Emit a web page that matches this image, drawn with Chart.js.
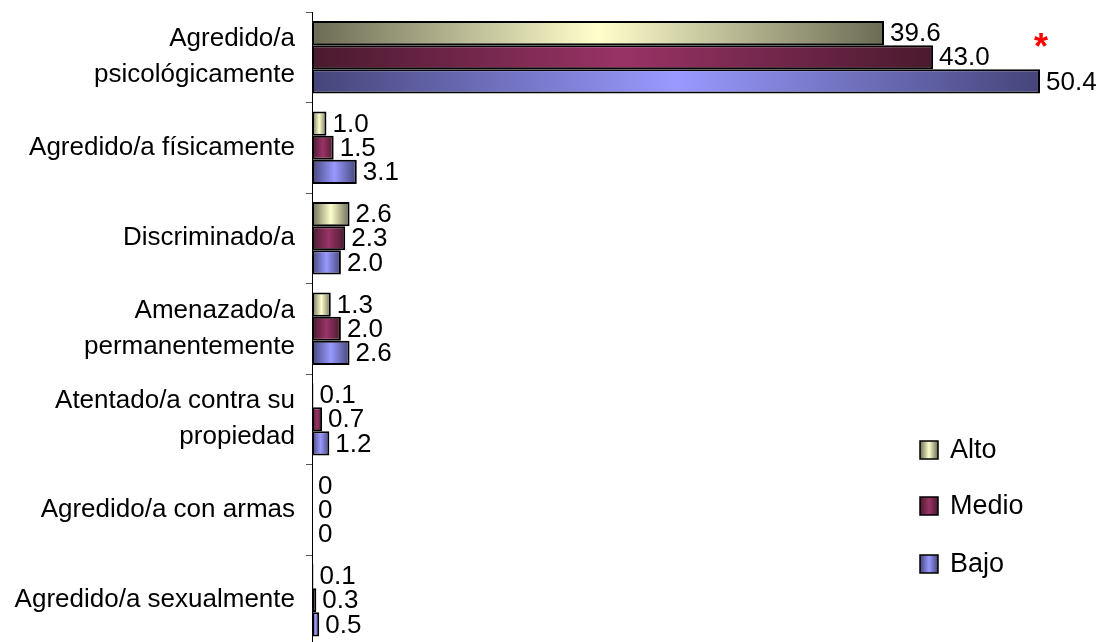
<!DOCTYPE html>
<html>
<head>
<meta charset="utf-8">
<script src="https://cdn.jsdelivr.net/npm/chart.js@4/dist/chart.umd.min.js"></script>
<style>
  html, body { margin: 0; padding: 0; background: #fff; overflow: hidden; }
  #wrap { width: 1101px; height: 650px; }
</style>
</head>
<body>
<div id="wrap"><canvas id="myCanvas" width="1101" height="650"></canvas></div>
<script>
const categories = [
  ["Agredido/a", "psicológicamente"],
  "Agredido/a físicamente",
  "Discriminado/a",
  ["Amenazado/a", "permanentemente"],
  ["Atentado/a contra su", "propiedad"],
  "Agredido/a con armas",
  "Agredido/a sexualmente",
];
const seriesNames = ["Alto", "Medio", "Bajo"];
const alto = [39.6, 1.0, 2.6, 1.3, 0.1, 0, 0.1];
const medio = [43.0, 1.5, 2.3, 2.0, 0.7, 0, 0.3];
const bajo = [50.4, 3.1, 2.0, 2.6, 1.2, 0, 0.5];

const FONT = "'Liberation Sans', Arial, sans-serif";
// dark edge / light middle, like the old "cylinder" fill
const shades = [
  ["#6b6b55", "#ffffcc"],
  ["#4a1a2e", "#993366"],
  ["#45457a", "#9999ff"],
];

function barFill(i) {
  return function (ctx) {
    const chart = ctx.chart;
    if (!chart.chartArea) return shades[i][1];
    const x = chart.scales.x;
    const x0 = x.getPixelForValue(0);
    const x1 = x.getPixelForValue(ctx.raw);
    if (x1 - x0 < 1) return shades[i][1];
    const g = chart.ctx.createLinearGradient(x0, 0, x1, 0);
    g.addColorStop(0, shades[i][0]);
    g.addColorStop(0.5, shades[i][1]);
    g.addColorStop(1, shades[i][0]);
    return g;
  };
}

const valueLabels = {
  id: "valueLabels",
  afterDatasetsDraw(chart) {
    const c = chart.ctx;
    c.save();
    c.font = "26px " + FONT;
    c.fillStyle = "#000";
    c.textAlign = "left";
    c.textBaseline = "middle";
    chart.data.datasets.forEach((ds, di) => {
      chart.getDatasetMeta(di).data.forEach((bar, j) => {
        const v = ds.data[j];
        c.fillText(v === 0 ? "0" : v.toFixed(1), bar.x + 6, bar.y + 1);
      });
    });
    c.restore();
  },
};

const sideLegend = {
  id: "sideLegend",
  afterDraw(chart) {
    const c = chart.ctx;
    const rows = [450, 506, 564];
    c.save();
    seriesNames.forEach((name, i) => {
      const bx = 920, by = rows[i] - 9, w = 18, h = 18;
      const g = c.createLinearGradient(bx, 0, bx + w, 0);
      g.addColorStop(0, shades[i][0]);
      g.addColorStop(0.5, shades[i][1]);
      g.addColorStop(1, shades[i][0]);
      c.fillStyle = g;
      c.fillRect(bx, by, w, h);
      c.lineWidth = 1.5;
      c.strokeStyle = "#000";
      c.strokeRect(bx, by, w, h);
      c.fillStyle = "#000";
      c.font = "27px " + FONT;
      c.textBaseline = "middle";
      c.fillText(name, 950, rows[i] + 1);
    });
    // significance mark
    c.fillStyle = "#ff0000";
    c.font = "bold 36px " + FONT;
    c.textAlign = "center";
    c.textBaseline = "alphabetic";
    c.fillText("*", 1041, 59);
    c.restore();
  },
};

const data = {
  labels: categories,
  datasets: [alto, medio, bajo].map((vals, i) => ({
    label: seriesNames[i],
    data: vals,
    backgroundColor: barFill(i),
    borderColor: "#000",
    borderWidth: 2,
    borderSkipped: false,
    barPercentage: 1.0,
    categoryPercentage: 0.8,
  })),
};

new Chart(document.getElementById("myCanvas").getContext("2d"), {
  type: "bar",
  data: data,
  plugins: [valueLabels, sideLegend],
  options: {
    indexAxis: "y",
    responsive: false,
    animation: false,
    devicePixelRatio: 1,
    layout: { padding: { top: 12, bottom: 4.5, left: 0, right: 9 } },
    plugins: { legend: { display: false }, tooltip: { enabled: false } },
    scales: {
      x: { display: false, min: 0, max: 54 },
      y: {
        afterFit(scale) {
          scale.width = 312;
          scale.paddingTop = 0;
          scale.paddingBottom = 0;
        },
        border: { color: "#000", width: 1 },
        grid: { offset: true, drawOnChartArea: false, drawTicks: true, tickLength: 6, color: "#555" },
        ticks: {
          color: "#000",
          padding: 11,
          font: { family: FONT, size: 26, lineHeight: 1.38 },
        },
      },
    },
  },
});
</script>
</body>
</html>
